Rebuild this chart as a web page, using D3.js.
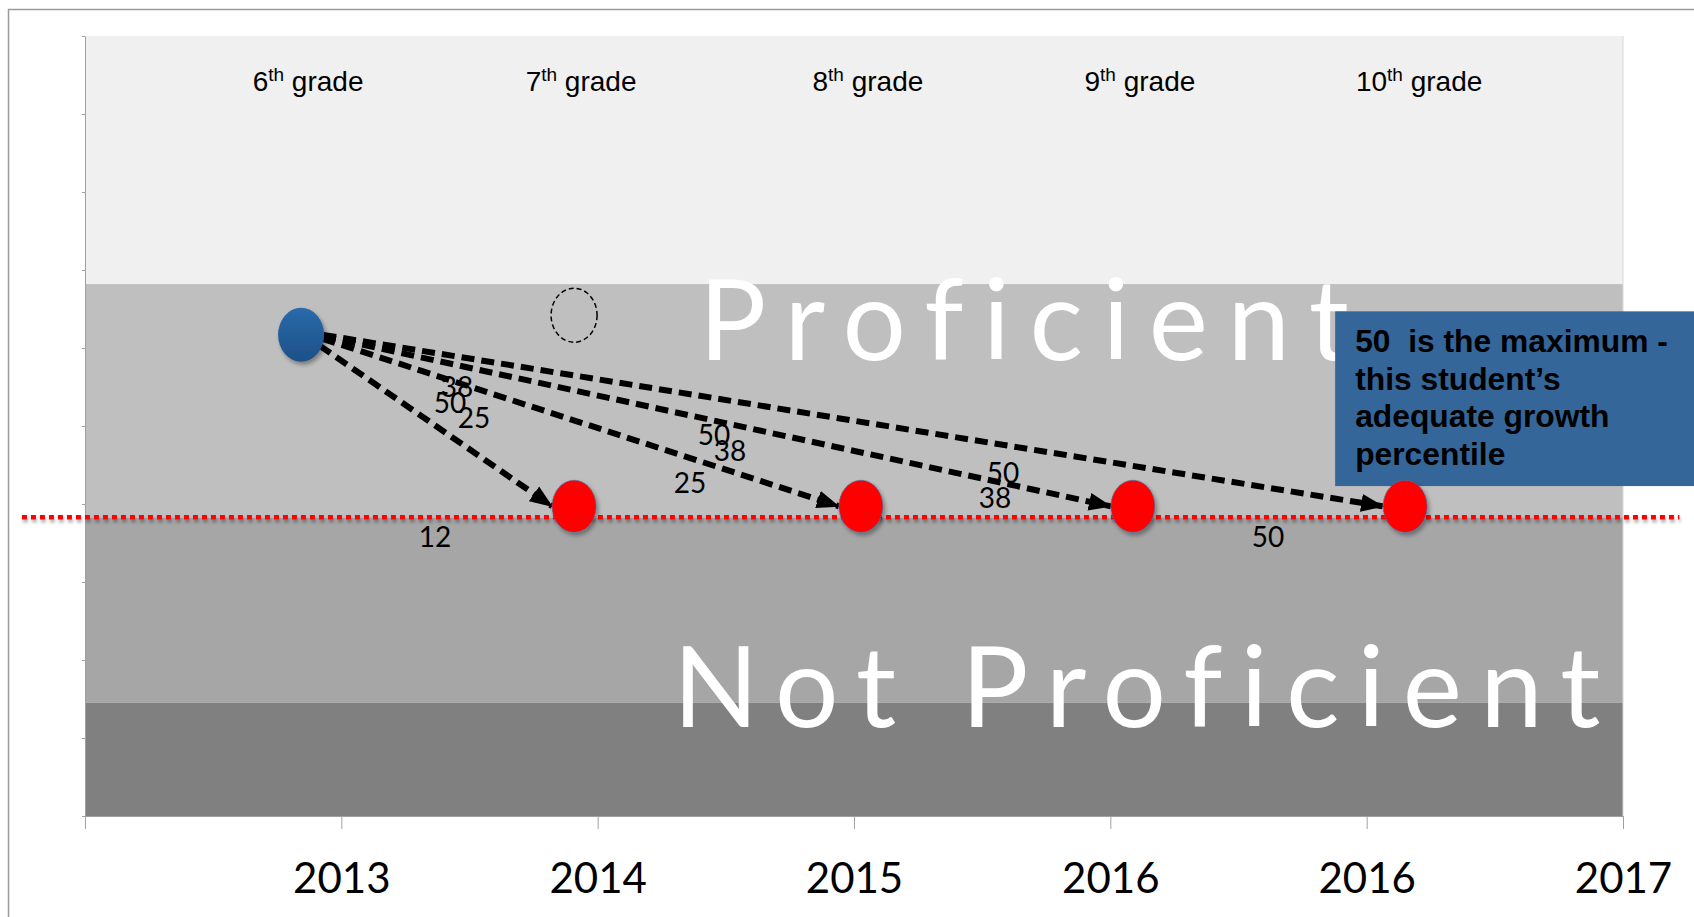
<!DOCTYPE html>
<head>
  <meta charset="utf-8" />
  <script src="https://d3js.org/d3.v7.min.js"></script>
  <style>
    body {
      margin: 0;
      background: white;
    }
    .axis path,
    .axis line {
      stroke: #a0a0a0;
    }
  </style>
</head>

<body>
  <script>
    // valeurs
    var xTickLabels = ["", "2013", "2014", "2015", "2016", "2016", "2017"];
    var grades = ["6", "7", "8", "9", "10"];
    var pointX = [0.843, 1.908, 3.027, 4.088, 5.15];
    var pointY = [61.7, 39.7, 39.7, 39.7, 39.7];
    var ghostX = 1.908,
      ghostY = 64.2;
    var targetY = 38.3;
    var bandEdges = [0, 14.5, 38.3, 68.2, 100];
    var bandColors = ["#808080", "#a6a6a6", "#bfbfbf", "#f0f0f0"];
    var growthLabels = ["12", "38", "50", "25", "50", "38", "25", "50", "38", "50"];
    var labelX = [1.365, 1.451, 1.424, 1.518, 2.454, 2.516, 2.36, 3.581, 3.55, 4.615];
    var labelY = [35.8, 55.0, 52.9, 51.0, 48.8, 46.8, 42.7, 44.0, 40.8, 35.8];
    var noteLines = ["50  is the maximum -", "this student\u2019s", "adequate growth", "percentile"];

    var width = 1694,
      height = 917;

    var svg = d3
      .select("body")
      .append("svg")
      .attr("width", width)
      .attr("height", height);

    var x = d3.scaleLinear().domain([0, 6]).range([85, 1623]);
    var y = d3.scaleLinear().domain([0, 100]).range([816, 36]);

    var defs = svg.append("defs");
    var shadow = defs.append("filter").attr("id", "shadow")
      .attr("x", "-20%").attr("y", "-50%").attr("width", "140%").attr("height", "200%");
    shadow.append("feDropShadow")
      .attr("dx", 2).attr("dy", 3).attr("stdDeviation", 2)
      .attr("flood-color", "#000").attr("flood-opacity", 0.35);

    // une ligne horizontale n'a pas de hauteur : filtre en coordonnées absolues
    var lineShadow = defs.append("filter").attr("id", "lineShadow")
      .attr("filterUnits", "userSpaceOnUse")
      .attr("x", 0).attr("y", 0).attr("width", width).attr("height", height);
    lineShadow.append("feDropShadow")
      .attr("dx", 1).attr("dy", 3).attr("stdDeviation", 1.5)
      .attr("flood-color", "#000").attr("flood-opacity", 0.3);

    var blueGrad = defs.append("linearGradient").attr("id", "blueGrad")
      .attr("x1", 0).attr("y1", 0).attr("x2", 0).attr("y2", 1);
    blueGrad.append("stop").attr("offset", "0%").attr("stop-color", "#2a6aab");
    blueGrad.append("stop").attr("offset", "100%").attr("stop-color", "#1d5088");

    defs.append("marker")
      .attr("id", "arrow")
      .attr("markerUnits", "userSpaceOnUse")
      .attr("viewBox", "0 -10 23 20")
      .attr("refX", 22)
      .attr("refY", 0)
      .attr("markerWidth", 23)
      .attr("markerHeight", 20)
      .attr("orient", "auto")
      .append("path")
      .attr("d", "M0,-9L23,0L0,9Z")
      .attr("fill", "black");

    // cadre
    svg.append("path")
      .attr("d", "M8.5," + height + "V9.5H" + width)
      .attr("fill", "none")
      .attr("stroke", "#9a9a9a")
      .attr("stroke-width", 1.5);

    // bandes
    svg.selectAll(".band")
      .data(bandColors)
      .join("rect")
      .attr("class", "band")
      .attr("x", x(0))
      .attr("width", x(6) - x(0))
      .attr("y", (d, i) => y(bandEdges[i + 1]))
      .attr("height", (d, i) => y(bandEdges[i]) - y(bandEdges[i + 1]))
      .attr("fill", d => d);

    // axes
    svg.append("g")
      .attr("class", "axis")
      .attr("transform", "translate(0," + y(0) + ")")
      .call(d3.axisBottom(x).tickValues(d3.range(7)).tickFormat((d, i) => xTickLabels[i]).tickSize(13).tickSizeOuter(13).tickPadding(34))
      .call(g => g.selectAll("text")
        .attr("font-family", "Lato, sans-serif")
        .attr("font-size", 42)
        .attr("fill", "black"));

    svg.append("g")
      .attr("class", "axis")
      .attr("transform", "translate(" + x(0) + ",0)")
      .call(d3.axisLeft(y).tickValues(d3.range(0, 101, 10)).tickFormat("").tickSize(3).tickSizeOuter(0))
      .call(g => g.select(".domain").attr("stroke", "#c8c8c8"));

    svg.append("line")
      .attr("x1", x(6)).attr("x2", x(6))
      .attr("y1", y(100)).attr("y2", y(0))
      .attr("stroke", "#d8d8d8");

    // niveaux scolaires
    var gradeText = svg.selectAll(".grade")
      .data(grades)
      .join("text")
      .attr("class", "grade")
      .attr("x", (d, i) => x(pointX[i]) + (d.length > 1 ? 14 : 7))
      .attr("y", y(93))
      .attr("text-anchor", "middle")
      .attr("font-family", "'Liberation Sans', Arial, sans-serif")
      .attr("font-size", 28)
      .attr("fill", "black");
    gradeText.append("tspan").text(d => d);
    gradeText.append("tspan").attr("font-size", 19).attr("dy", -10).text("th");
    gradeText.append("tspan").attr("dy", 10).text(" grade");

    // textes des zones
    svg.append("text")
      .attr("x", x(2.395))
      .attr("y", y(58.5))
      .attr("font-family", "Lato, sans-serif")
      .attr("font-size", 112)
      .attr("letter-spacing", 19.5)
      .attr("fill", "white")
      .text("Proficient");

    svg.append("text")
      .attr("x", x(2.294))
      .attr("y", y(11.4))
      .attr("font-family", "Lato, sans-serif")
      .attr("font-size", 112)
      .attr("letter-spacing", 18.3)
      .attr("fill", "white")
      .text("Not Proficient");

    // point prévu en pointillés
    svg.append("ellipse")
      .attr("cx", x(ghostX))
      .attr("cy", y(ghostY))
      .attr("rx", 23)
      .attr("ry", 27)
      .attr("fill", "none")
      .attr("stroke", "black")
      .attr("stroke-width", 1.5)
      .attr("stroke-dasharray", "5,3");

    // ligne cible
    svg.append("line")
      .attr("x1", x(-0.246))
      .attr("x2", x(6.22))
      .attr("y1", y(targetY))
      .attr("y2", y(targetY))
      .attr("stroke", "#ff0000")
      .attr("stroke-width", 4.5)
      .attr("stroke-dasharray", "5,4")
      .attr("filter", "url(#lineShadow)");

    // flèches
    var rx = 23,
      ry = 27;
    var x0 = x(pointX[0]),
      y0 = y(pointY[0]);
    svg.selectAll(".arrow")
      .data(d3.range(1, pointX.length))
      .join("line")
      .attr("class", "arrow")
      .each(function (i) {
        var tx = x(pointX[i]) - 22,
          ty = y(pointY[i]);
        var a = Math.atan2(ty - y0, tx - x0);
        d3.select(this)
          .attr("x1", x0 + rx * Math.cos(a) * 0.98)
          .attr("y1", y0 + ry * Math.sin(a) * 0.98 - 4)
          .attr("x2", tx)
          .attr("y2", ty);
      })
      .attr("stroke", "black")
      .attr("stroke-width", 6)
      .attr("stroke-dasharray", "13,7")
      .attr("marker-end", "url(#arrow)");

    // percentiles
    svg.selectAll(".pct")
      .data(growthLabels)
      .join("text")
      .attr("class", "pct")
      .attr("x", (d, i) => x(labelX[i]))
      .attr("y", (d, i) => y(labelY[i]))
      .attr("dy", "0.36em")
      .attr("text-anchor", "middle")
      .attr("font-family", "Lato, sans-serif")
      .attr("font-size", 28)
      .attr("fill", "black")
      .text(d => d);

    // encadré
    var note = svg.append("g");
    note.append("rect")
      .attr("x", x(4.877))
      .attr("y", y(64.7))
      .attr("width", width - x(4.877))
      .attr("height", y(42.3) - y(64.7))
      .attr("fill", "#346699");
    note.selectAll("text")
      .data(noteLines)
      .join("text")
      .attr("x", x(4.877) + 20)
      .attr("y", (d, i) => 352 + i * 37.7)
      .attr("font-family", "'Liberation Sans', Arial, sans-serif")
      .attr("font-weight", "bold")
      .attr("font-size", 31.8)
      .attr("fill", "black")
      .attr("xml:space", "preserve")
      .style("white-space", "pre")
      .text(d => d);

    // points
    svg.selectAll(".pt")
      .data(pointX)
      .join("ellipse")
      .attr("class", "pt")
      .attr("cx", d => x(d))
      .attr("cy", (d, i) => y(pointY[i]))
      .attr("rx", (d, i) => (i == 0 ? 23 : 22))
      .attr("ry", (d, i) => (i == 0 ? 27 : 26))
      .attr("fill", (d, i) => (i == 0 ? "url(#blueGrad)" : "#ff0000"))
      .attr("stroke", (d, i) => (i == 0 ? "none" : "#4a6fa5"))
      .attr("stroke-width", 1)
      .attr("stroke-dasharray", "2,1")
      .attr("filter", "url(#shadow)");
  </script>
</body>
